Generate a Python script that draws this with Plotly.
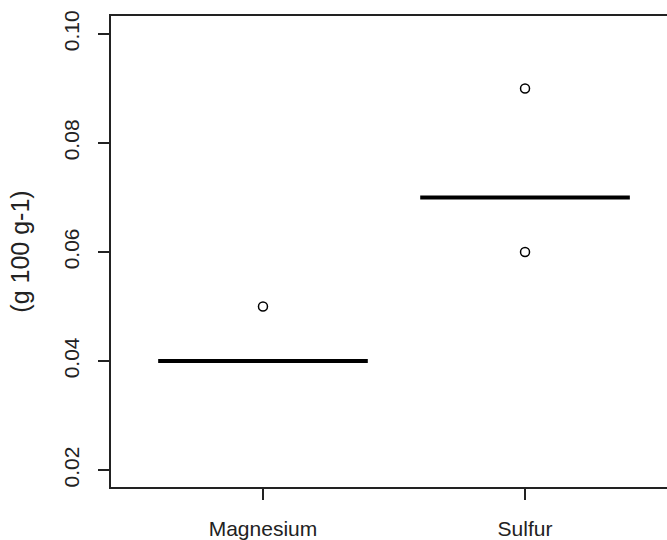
import plotly.graph_objects as go

categories = ["Magnesium", "Sulfur"]
positions = [1, 2]
medians = [0.04, 0.07]
outlier_cat = [1, 2, 2]
outlier_vals = [0.05, 0.09, 0.06]
y_ticks = [0.02, 0.04, 0.06, 0.08, 0.10]
y_ticktext = ["0.02", "0.04", "0.06", "0.08", "0.10"]
y_title = "(g 100 g-1)"

half = 0.4
fig = go.Figure()
for p, m in zip(positions, medians):
    fig.add_trace(go.Scatter(x=[p - half, p + half], y=[m, m], mode="lines",
                             line=dict(color="black", width=4), showlegend=False,
                             hoverinfo="skip"))
fig.add_trace(go.Scatter(x=outlier_cat, y=outlier_vals, mode="markers",
                         marker=dict(symbol="circle-open", size=9, color="black",
                                     line=dict(width=1.5, color="black")),
                         showlegend=False))

font = dict(family="Liberation Sans, Arial, sans-serif", size=21, color="#222")
fig.update_layout(
    width=667, height=540,
    margin=dict(l=111, r=0, t=16, b=51),
    plot_bgcolor="white", paper_bgcolor="white",
    font=font,
    xaxis=dict(range=[0.42, 2.5418], tickvals=positions, ticktext=categories,
               showgrid=False, zeroline=False, showline=True, linecolor="#222",
               linewidth=1.5, mirror=True, ticks="outside", ticklen=11,
               tickcolor="#222", tickwidth=1.5, ticklabelstandoff=11),
    yaxis=dict(range=[0.0169, 0.1033], tickvals=y_ticks, ticktext=y_ticktext,
               tickangle=-90, showgrid=False, zeroline=False, showline=True,
               linecolor="#222", linewidth=1.5, ticks="outside", ticklen=11,
               tickcolor="#222", tickwidth=1.5, ticklabelstandoff=11,
               title=dict(text=y_title, standoff=23)),
)
fig.write_html("out.html")
